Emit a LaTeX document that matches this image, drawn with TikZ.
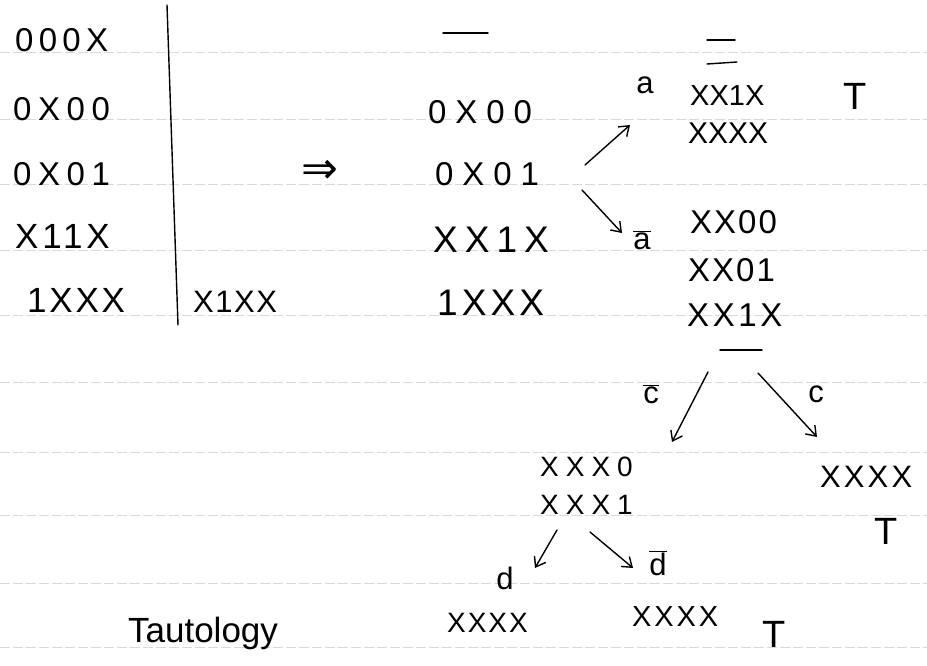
\documentclass[tikz,border=0pt]{standalone}
\usepackage{fontspec}
\setmainfont{Liberation Sans}
\newfontfamily\arrowfont{DejaVu Sans}
\usetikzlibrary{arrows.meta}
\tikzset{
  ent/.style 2 args={inner sep=0pt, anchor=west, font=\fontsize{#1}{#1}\selectfont\addfontfeature{LetterSpace=#2}},
  lbl/.style={inner sep=0pt, font=\fontsize{31}{31}\selectfont},
  tmark/.style={inner sep=0pt, font=\fontsize{38}{38}\selectfont},
  ink/.style={line width=1.4pt, line cap=round},
  branch/.style={ink, -{Straight Barb[length=9pt,width=13pt]}},
  rule/.style={gray!30, line width=0.6pt, dash pattern=on 10pt off 3pt}
}
\begin{document}
\begin{tikzpicture}[x=1pt,y=-1pt]
\useasboundingbox (0,0) rectangle (927,666);
% ruled paper lines
\foreach \yy in {52,119,184,250,315,382,452,515,583,647}
  \draw[rule] (0,\yy) -- (927,\yy);
% divider
\draw[ink] (167,5) -- (178,325);
% left column
\node[ent={33}{16}] (L1) at (15,40) {000X};
\node[ent={33}{20}] (L2) at (13,109) {0X00};
\node[ent={33}{20}] (L3) at (13,174) {0X01};
\node[ent={35}{11}] (L4) at (15,236) {X11X};
\node[ent={35}{8}] (L5) at (27,300) {1XXX};
\node[ent={31}{5}] (R5) at (193,302) {X1XX};
% implication
\node[inner sep=0pt, font=\fontsize{44}{44}\arrowfont] (imp) at (320,172) {⇒};
% middle column
\draw[ink] (443,33) -- (488,33);
\node[ent={33}{27}] (M2) at (428,112) {0X00};
\node[ent={33}{27}] (M3) at (435,174) {0X01};
\node[ent={37}{19}] (M4) at (433,240) {XX1X};
\node[ent={37}{11}] (M5) at (437,303) {1XXX};
% branch on a
\coordinate (s1) at (585,165);
\coordinate (e1) at (630,125);
\coordinate (s2) at (582,190);
\coordinate (e2) at (622,233);
\draw[branch] (s1) -- (e1);
\draw[branch] (s2) -- (e2);
\node[lbl] (la) at (645,85) {a};
\node[lbl] (lna) at (642,240) {$\overline{\mbox{a}}$};
% a branch result
\draw[ink] (707,40) -- (735,40);
\draw[ink] (707,64) -- (737,62);
\node[ent={29}{0}] (A1) at (690,96) {XX1X};
\node[ent={30}{0}] (A2) at (688,133) {XXXX};
\node[tmark] (T1) at (855,96) {T};
% a-bar branch result
\node[ent={33}{6}] (B1) at (690,222) {XX00};
\node[ent={33}{6}] (B2) at (688,270) {XX01};
\node[ent={33}{11}] (B3) at (687,315) {XX1X};
\draw[ink] (720,350) -- (762,350);
% branch on c
\coordinate (s3) at (708,372);
\coordinate (e3) at (672,442);
\coordinate (s4) at (758,373);
\coordinate (e4) at (817,437);
\draw[branch] (s3) -- (e3);
\draw[branch] (s4) -- (e4);
\node[lbl] (lnc) at (651,394) {$\overline{\mbox{c}}$};
\node[lbl] (lc) at (816,394) {c};
\node[ent={28}{25}] (C1) at (540,467) {XXX0};
\node[ent={28}{25}] (C2) at (540,505) {XXX1};
\node[ent={31}{10}] (D1) at (820,477) {XXXX};
\node[tmark] (T2) at (886,531) {T};
% branch on d
\coordinate (s5) at (557,530);
\coordinate (e5) at (535,568);
\coordinate (s6) at (590,532);
\coordinate (e6) at (633,568);
\draw[branch] (s5) -- (e5);
\draw[branch] (s6) -- (e6);
\node[lbl] (ld) at (505,578) {d};
\node[lbl] (lnd) at (658,563) {$\overline{\mbox{d}}$};
\node[ent={28}{7}] (E1) at (447,623) {XXXX};
\node[ent={29}{10}] (E2) at (632,617) {XXXX};
\node[tmark] (T3) at (774,634) {T};
\node[inner sep=0pt, font=\fontsize{35}{35}\selectfont] (taut) at (203,633) {Tautology};
\end{tikzpicture}
\end{document}
